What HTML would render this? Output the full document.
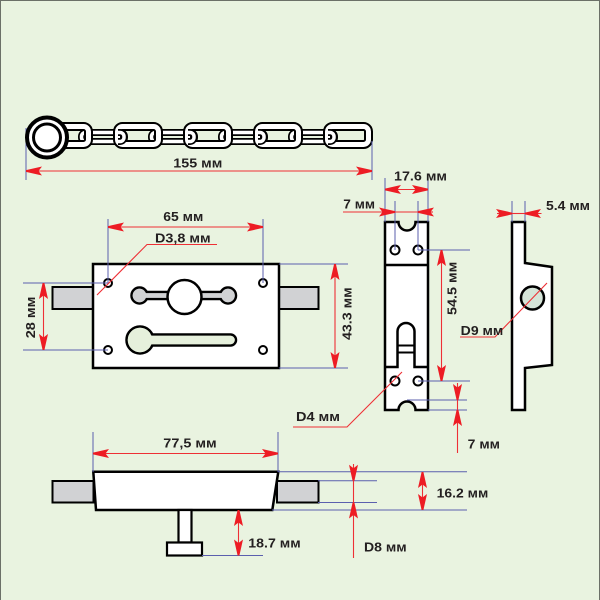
<!DOCTYPE html>
<html><head><meta charset="utf-8"><style>
html,body{margin:0;padding:0;}
body{width:600px;height:600px;overflow:hidden;background:#e9f3e0;}
svg{display:block;}
text{font-family:"Liberation Sans",Arial,sans-serif;font-weight:bold;font-size:13px;fill:#231f20;}
</style></head><body>
<svg width="600" height="600" viewBox="0 0 600 600" xmlns="http://www.w3.org/2000/svg">
<defs>
<marker id="ar" markerUnits="userSpaceOnUse" markerWidth="17" markerHeight="9" refX="16" refY="4.5" orient="auto-start-reverse" viewBox="0 0 17 9" overflow="visible">
<path d="M0,0 L16,3.6 L16,5.4 L0,9 L3.5,4.5 Z" fill="#ed1c24"/>
</marker>
</defs>
<rect x="0" y="0" width="600" height="600" fill="#e9f3e0"/>
<path d="M0.5,600 V0.5 H599.5 V600" fill="none" stroke="#6b7068" stroke-width="1"/>

<!-- ===== CHAIN ===== -->
<g fill="none" stroke-linejoin="round">
  <g>
    <rect x="81.5" y="132.5" width="43" height="9" rx="4" stroke="#000" stroke-width="7"/>
    <rect x="81.5" y="132.5" width="43" height="9" rx="4" stroke="#fff" stroke-width="3.5"/>
    <rect x="151.5" y="132.5" width="43" height="9" rx="4" stroke="#000" stroke-width="7"/>
    <rect x="151.5" y="132.5" width="43" height="9" rx="4" stroke="#fff" stroke-width="3.5"/>
    <rect x="221.5" y="132.5" width="43" height="9" rx="4" stroke="#000" stroke-width="7"/>
    <rect x="221.5" y="132.5" width="43" height="9" rx="4" stroke="#fff" stroke-width="3.5"/>
    <rect x="291.5" y="132.5" width="43" height="9" rx="4" stroke="#000" stroke-width="7"/>
    <rect x="291.5" y="132.5" width="43" height="9" rx="4" stroke="#fff" stroke-width="3.5"/>
  </g>
  <g>
    <rect x="47.5" y="126.5" width="41" height="18" rx="5" stroke="#000" stroke-width="9"/>
    <rect x="47.5" y="126.5" width="41" height="18" rx="5" stroke="#fff" stroke-width="5"/>
    <rect x="117.5" y="126.5" width="41" height="18" rx="5" stroke="#000" stroke-width="9"/>
    <rect x="117.5" y="126.5" width="41" height="18" rx="5" stroke="#fff" stroke-width="5"/>
    <rect x="187.5" y="126.5" width="41" height="18" rx="5" stroke="#000" stroke-width="9"/>
    <rect x="187.5" y="126.5" width="41" height="18" rx="5" stroke="#fff" stroke-width="5"/>
    <rect x="257.5" y="126.5" width="41" height="18" rx="5" stroke="#000" stroke-width="9"/>
    <rect x="257.5" y="126.5" width="41" height="18" rx="5" stroke="#fff" stroke-width="5"/>
    <rect x="327.5" y="126.5" width="41" height="18" rx="5" stroke="#000" stroke-width="9"/>
    <rect x="327.5" y="126.5" width="41" height="18" rx="5" stroke="#fff" stroke-width="5"/>
  </g>
</g>
<g fill="none">
  <path d="M118,132.5 H120 A4,4 0 0 1 124,136.5 V137.5 A4,4 0 0 1 120,141.5 H118" stroke="#000" stroke-width="7"/>
  <path d="M118,132.5 H120 A4,4 0 0 1 124,136.5 V137.5 A4,4 0 0 1 120,141.5 H118" stroke="#fff" stroke-width="3.5"/>
  <path d="M188,132.5 H190 A4,4 0 0 1 194,136.5 V137.5 A4,4 0 0 1 190,141.5 H188" stroke="#000" stroke-width="7"/>
  <path d="M188,132.5 H190 A4,4 0 0 1 194,136.5 V137.5 A4,4 0 0 1 190,141.5 H188" stroke="#fff" stroke-width="3.5"/>
  <path d="M258,132.5 H260 A4,4 0 0 1 264,136.5 V137.5 A4,4 0 0 1 260,141.5 H258" stroke="#000" stroke-width="7"/>
  <path d="M258,132.5 H260 A4,4 0 0 1 264,136.5 V137.5 A4,4 0 0 1 260,141.5 H258" stroke="#fff" stroke-width="3.5"/>
  <path d="M328,132.5 H330 A4,4 0 0 1 334,136.5 V137.5 A4,4 0 0 1 330,141.5 H328" stroke="#000" stroke-width="7"/>
  <path d="M328,132.5 H330 A4,4 0 0 1 334,136.5 V137.5 A4,4 0 0 1 330,141.5 H328" stroke="#fff" stroke-width="3.5"/>
</g>
<line x1="26" y1="128" x2="26" y2="180" stroke="#5b5fae" stroke-width="1"/>
<line x1="372" y1="141" x2="372" y2="180" stroke="#5b5fae" stroke-width="1"/>
<circle cx="47" cy="137.5" r="20" fill="#fff" stroke="#000" stroke-width="4"/>
<circle cx="47" cy="137.5" r="13.5" fill="#fff" stroke="#000" stroke-width="3"/>

<!-- ===== FRONT VIEW ===== -->
<rect x="52.5" y="287" width="41" height="22" fill="#d1d2d4" stroke="#000" stroke-width="2"/>
<rect x="278.5" y="287" width="40" height="22" fill="#d1d2d4" stroke="#000" stroke-width="2"/>
<rect x="93" y="264" width="186" height="104" fill="#fff" stroke="#000" stroke-width="2.5"/>
<g stroke="#000" stroke-width="2.5" fill="#d1d2d4">
  <circle cx="139.5" cy="295.5" r="8"/>
  <circle cx="228" cy="295.5" r="8"/>
  <rect x="139.5" y="292" width="88.5" height="7"/>
</g>
<g fill="#d1d2d4">
  <circle cx="139.5" cy="295.5" r="6.8"/>
  <circle cx="228" cy="295.5" r="6.8"/>
  <rect x="139.5" y="293.2" width="88.5" height="4.6"/>
</g>
<circle cx="184.5" cy="297" r="17" fill="#fff" stroke="#000" stroke-width="2.5"/>
<g stroke="#000" stroke-width="2.5" fill="#e6f0dc">
  <circle cx="140" cy="340" r="13.5"/>
  <rect x="140" y="334.5" width="96" height="11" rx="5.5"/>
</g>
<g fill="#e6f0dc">
  <circle cx="140" cy="340" r="12.2"/>
  <rect x="140" y="335.7" width="94.8" height="8.6" rx="4.3"/>
</g>
<g fill="#fff" stroke="#000" stroke-width="2">
  <circle cx="108" cy="283" r="4"/>
  <circle cx="263" cy="283" r="4"/>
  <circle cx="108" cy="350" r="4"/>
  <circle cx="263" cy="350" r="4"/>
</g>

<!-- ===== STRIKE PLATE ===== -->
<path d="M385,222 H398.5 A8.5,8.5 0 0 0 415.5,222 H428 V410 H415.5 A8.5,8.5 0 0 0 398.5,410 H385 Z" fill="#fff" stroke="#000" stroke-width="2.5"/>
<path d="M385,265 H428" stroke="#000" stroke-width="2.5"/>
<path d="M385,367 H397.5 V331.5 A8.5,8.5 0 0 1 414.5,331.5 V367 H428" fill="none" stroke="#000" stroke-width="2.5"/>
<path d="M397.5,345.5 H414.5 M397.5,352.5 H414.5" stroke="#000" stroke-width="2"/>
<g fill="#fff" stroke="#000" stroke-width="2">
  <circle cx="395" cy="250" r="4.5"/>
  <circle cx="418" cy="250" r="4.5"/>
  <circle cx="395" cy="381" r="4.5"/>
  <circle cx="418" cy="381" r="4.5"/>
</g>

<!-- ===== SIDE PROFILE ===== -->
<path d="M512,222 H525 V263 L552,267 V365 L525,368 V410 H512 Z" fill="#fff" stroke="#000" stroke-width="2.5"/>
<circle cx="532.5" cy="298" r="11.5" fill="#d5e4d8" stroke="#000" stroke-width="2.5"/>

<!-- ===== BOTTOM VIEW ===== -->
<rect x="52.5" y="481" width="41" height="21.5" fill="#d1d2d4" stroke="#000" stroke-width="2"/>
<rect x="277" y="481" width="41.5" height="21.5" fill="#d1d2d4" stroke="#000" stroke-width="2"/>
<path d="M93.3,471.7 H278.3 L272.3,510 H96 Z" fill="#fff" stroke="#000" stroke-width="2.5"/>
<rect x="178.5" y="510" width="13" height="32.5" fill="#fff" stroke="#000" stroke-width="2.2"/>
<rect x="167" y="542.5" width="35" height="13" fill="#fff" stroke="#000" stroke-width="2.2"/>

<!-- ===== BLUE EXTENSION LINES ===== -->
<g stroke="#5b5fae" stroke-width="1" fill="none">
  <path d="M108,219 V283 M263,219 V283"/>
  <path d="M23,283 H108 M23,350 H108"/>
  <path d="M279,264 H348 M279,368 H348"/>
  <path d="M385,178 V222 M428,178 V222 M395,201 V250 M418,201 V250"/>
  <path d="M418,250 H470 M418,381 H470 M407,400 H467 M428,410 H467"/>
  <path d="M512,201 V222 M525,201 V222"/>
  <path d="M93,432 V472 M278,432 V472"/>
  <path d="M278,471.7 H467 M318,480.7 H377 M318,502.5 H377 M272,510 H467"/>
  <path d="M202,555.5 H263"/>
</g>

<!-- ===== RED DIMENSIONS ===== -->
<g stroke="#ee2f35" stroke-width="1.1" fill="none">
  <path d="M26,171 H372" marker-start="url(#ar)" marker-end="url(#ar)"/>
  <path d="M108,227 H263" marker-start="url(#ar)" marker-end="url(#ar)"/>
  <polyline points="217,244.5 147,244.5 97,295"/>
  <path d="M43.5,283 V350" marker-start="url(#ar)" marker-end="url(#ar)"/>
  <path d="M335,264 V368" marker-start="url(#ar)" marker-end="url(#ar)"/>
  <path d="M385,189.5 H428" marker-start="url(#ar)" marker-end="url(#ar)"/>
  <path d="M343,212 H395" marker-end="url(#ar)"/>
  <path d="M395,212 H418"/>
  <path d="M433,212 H418" marker-end="url(#ar)"/>
  <path d="M441.5,250 V381" marker-start="url(#ar)" marker-end="url(#ar)"/>
  <path d="M457.5,383 V400" marker-end="url(#ar)"/>
  <path d="M457.5,400 V410"/>
  <path d="M457.5,453 V410" marker-end="url(#ar)"/>
  <polyline points="293,427 347,427 402,372"/>
  <polyline points="460,337 495,337 547,283"/>
  <path d="M497,213.5 H512" marker-end="url(#ar)"/>
  <path d="M512,213.5 H525"/>
  <path d="M541.5,213.5 H525" marker-end="url(#ar)"/>
  <path d="M93,453.5 H278" marker-start="url(#ar)" marker-end="url(#ar)"/>
  <path d="M353.5,464 V480.7" marker-end="url(#ar)"/>
  <path d="M353.5,480.7 V502.5"/>
  <path d="M353.5,558 V502.5" marker-end="url(#ar)"/>
  <path d="M422.5,472 V510" marker-start="url(#ar)" marker-end="url(#ar)"/>
  <path d="M238.5,510 V555.5" marker-start="url(#ar)" marker-end="url(#ar)"/>
</g>

<!-- ===== LABELS ===== -->
<text x="173.3" y="167.7" textLength="49" lengthAdjust="spacingAndGlyphs">155 мм</text>
<text x="163.3" y="221" textLength="40" lengthAdjust="spacingAndGlyphs">65 мм</text>
<text x="155" y="242.7" textLength="55.7" lengthAdjust="spacingAndGlyphs">D3,8 мм</text>
<text x="35" y="338.3" transform="rotate(-90 35 338.3)" textLength="41.6" lengthAdjust="spacingAndGlyphs">28 мм</text>
<text x="351.7" y="340" transform="rotate(-90 351.7 340)" textLength="52.7" lengthAdjust="spacingAndGlyphs">43.3 мм</text>
<text x="394" y="180.7" textLength="53" lengthAdjust="spacingAndGlyphs">17.6 мм</text>
<text x="343.3" y="208.3" textLength="31.7" lengthAdjust="spacingAndGlyphs">7 мм</text>
<text x="456.7" y="315" transform="rotate(-90 456.7 315)" textLength="53.3" lengthAdjust="spacingAndGlyphs">54.5 мм</text>
<text x="460.7" y="335" textLength="42.6" lengthAdjust="spacingAndGlyphs">D9 мм</text>
<text x="546" y="210" textLength="44" lengthAdjust="spacingAndGlyphs">5.4 мм</text>
<text x="467.7" y="448.3" textLength="32.3" lengthAdjust="spacingAndGlyphs">7 мм</text>
<text x="296" y="421" textLength="44" lengthAdjust="spacingAndGlyphs">D4 мм</text>
<text x="163.3" y="447.7" textLength="53.4" lengthAdjust="spacingAndGlyphs">77,5 мм</text>
<text x="436.7" y="497.7" textLength="51.6" lengthAdjust="spacingAndGlyphs">16.2 мм</text>
<text x="248.3" y="547.3" textLength="52.4" lengthAdjust="spacingAndGlyphs">18.7 мм</text>
<text x="364" y="551.7" textLength="42.7" lengthAdjust="spacingAndGlyphs">D8 мм</text>
</svg>
</body></html>
